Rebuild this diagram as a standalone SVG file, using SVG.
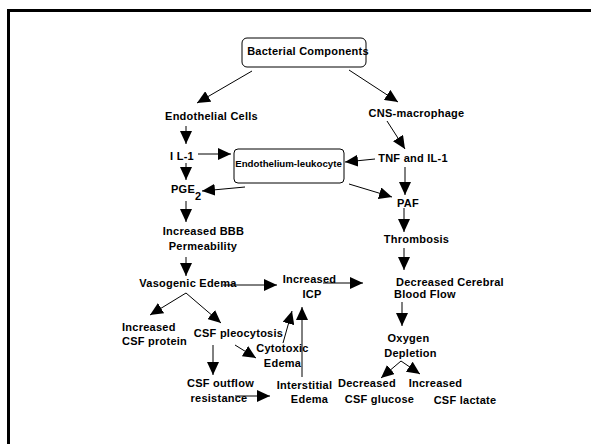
<svg xmlns="http://www.w3.org/2000/svg" width="591" height="444" viewBox="0 0 591 444">
<defs>
<marker id="a" markerWidth="13" markerHeight="12" refX="13" refY="6" orient="auto" markerUnits="userSpaceOnUse"><path d="M0,0 L13,6 L0,12 z" fill="#000"/></marker>
<style>
text{font-family:"Liberation Sans",Arial,sans-serif;font-weight:bold;font-size:11px;letter-spacing:0.25px;fill:#000;text-anchor:middle}
.l{text-anchor:start}
.box{fill:#fff;stroke:#000;stroke-width:1}
#connectors line{stroke:#000;stroke-width:1;marker-end:url(#a)}
</style>
</defs>
<rect x="0" y="0" width="591" height="444" fill="#fff"/>
<rect x="8.5" y="10.5" width="600" height="450" fill="none" stroke="#000" stroke-width="3"/>
<g id="connectors">
<line x1="252" y1="71" x2="197" y2="103"/>
<line x1="349" y1="70" x2="398" y2="102"/>
<line x1="186" y1="126" x2="186" y2="144"/>
<line x1="387" y1="121" x2="405" y2="149"/>
<line x1="198" y1="154" x2="231" y2="154"/>
<line x1="375" y1="159" x2="345" y2="162"/>
<line x1="186" y1="163" x2="186" y2="180"/>
<line x1="245" y1="187" x2="202" y2="191"/>
<line x1="349" y1="184" x2="392" y2="197"/>
<line x1="405" y1="167" x2="405" y2="195"/>
<line x1="186" y1="201" x2="186" y2="222"/>
<line x1="404" y1="208" x2="404" y2="232"/>
<line x1="186" y1="257" x2="186" y2="276"/>
<line x1="404" y1="248" x2="404" y2="270"/>
<line x1="223" y1="285" x2="277" y2="285"/>
<line x1="323" y1="283" x2="363" y2="283"/>
<line x1="186" y1="293" x2="150" y2="315"/>
<line x1="186" y1="293" x2="221" y2="323"/>
<line x1="213" y1="345" x2="213" y2="375"/>
<line x1="235" y1="345" x2="256" y2="358"/>
<line x1="283" y1="343" x2="292" y2="311"/>
<line x1="302" y1="377" x2="302" y2="307"/>
<line x1="235" y1="396" x2="270" y2="396"/>
<line x1="402" y1="302" x2="402" y2="326"/>
<line x1="401" y1="361" x2="381" y2="378"/>
<line x1="401" y1="361" x2="420" y2="374"/>
</g>
<g id="bacterial"><rect class="box" x="242" y="38" width="124" height="29" rx="5"/><text x="308" y="55">Bacterial Components</text></g>
<g id="endothelial"><text x="211.5" y="120">Endothelial Cells</text></g>
<g id="cnsmacrophage"><text x="416.5" y="117">CNS-macrophage</text></g>
<g id="il1"><text x="182" y="160">I L-1</text></g>
<g id="endoleuk"><rect class="box" x="234" y="149" width="110" height="34" rx="4"/><text x="288.5" y="167" style="font-size:9.7px;letter-spacing:0">Endothelium-leukocyte</text></g>
<g id="tnf"><text x="413" y="162">TNF and IL-1</text></g>
<g id="pge2"><text class="l" x="171" y="193">PGE<tspan dy="7">2</tspan></text></g>
<g id="paf"><text x="408" y="207">PAF</text></g>
<g id="bbb"><text x="203.5" y="235">Increased BBB</text><text x="203" y="250">Permeability</text></g>
<g id="thrombosis"><text x="416.5" y="243">Thrombosis</text></g>
<g id="vasogenic"><text x="188" y="287">Vasogenic Edema</text></g>
<g id="icp"><text x="309.5" y="283">Increased</text><text x="312" y="298">ICP</text></g>
<g id="dcbf"><text class="l" x="396" y="286">Decreased Cerebral</text><text class="l" x="394" y="298">Blood Flow</text></g>
<g id="csfprotein"><text class="l" x="122" y="331">Increased</text><text class="l" x="122" y="345">CSF protein</text></g>
<g id="pleocytosis"><text x="238.5" y="337">CSF pleocytosis</text></g>
<g id="cytotoxic"><text x="282.5" y="352">Cytotoxic</text><text x="282.5" y="367">Edema</text></g>
<g id="outflow"><text x="220.5" y="387">CSF outflow</text><text x="219" y="402">resistance</text></g>
<g id="interstitial"><text x="304.5" y="389">Interstitial</text><text x="309.5" y="403">Edema</text></g>
<g id="oxygen"><text x="408.5" y="342">Oxygen</text><text x="410.5" y="357">Depletion</text></g>
<g id="glucose"><text x="367" y="387">Decreased</text><text x="379.5" y="403">CSF glucose</text></g>
<g id="lactate"><text x="435.5" y="387">Increased</text><text x="465" y="404">CSF lactate</text></g>
</svg>
